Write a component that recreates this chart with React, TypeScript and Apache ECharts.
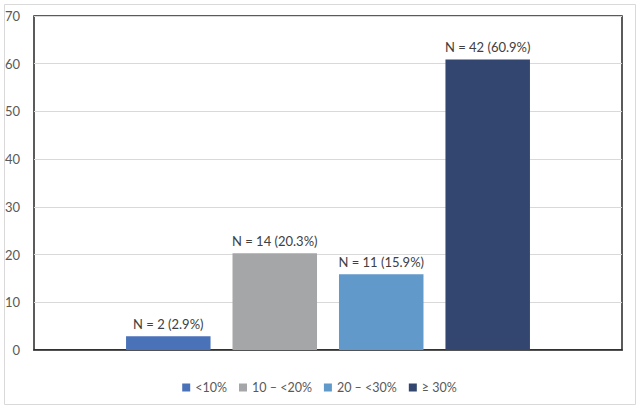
import { useEffect, useRef } from 'react';
import * as echarts from 'echarts';

// Share of cases per group
const groups = ['<10%', '10 – <20%', '20 – <30%', '≥ 30%'];
const counts = [2, 14, 11, 42];
const percents = [2.9, 20.3, 15.9, 60.9];
const colors = ['#4A72B8', '#A5A6A8', '#6199CB', '#33466F'];
const yTicks = { min: 0, max: 70, interval: 10 };

const FONT = 'Lato, "Noto Sans", sans-serif';

export default function App() {
  const chartRef = useRef<HTMLDivElement>(null);

  useEffect(() => {
    document.body.style.margin = '0';
    if (!chartRef.current) return;
    const chart = echarts.init(chartRef.current, undefined, { renderer: 'svg' });

    const series = groups.map((name, i) => ({
      name,
      type: 'bar',
      barWidth: 84.5,
      barGap: '26%',
      itemStyle: { color: colors[i] },
      label: {
        show: true,
        position: 'top',
        distance: 6,
        color: '#404040',
        fontSize: 13,
        fontFamily: FONT,
        formatter: () => `N = ${counts[i]} (${percents[i]}%)`,
      },
      data: [percents[i]],
    }));

    chart.setOption({
      animation: false,
      textStyle: { fontFamily: FONT },
      graphic: [
        {
          type: 'rect',
          shape: { x: 4.5, y: 4.5, width: 631, height: 400 },
          style: { fill: 'none', stroke: '#d9d9d9', lineWidth: 1 },
          silent: true,
        },
      ],
      grid: {
        left: 34,
        top: 16,
        right: 17,
        bottom: 60,
        show: true,
        borderColor: '#262626',
        borderWidth: 1.5,
      },
      legend: {
        data: groups,
        left: 'center',
        top: 376,
        icon: 'rect',
        itemWidth: 8,
        itemHeight: 8,
        itemGap: 12,
        textStyle: { color: '#595959', fontSize: 12.5, fontFamily: FONT },
      },
      xAxis: {
        type: 'category',
        data: [''],
        axisTick: { show: false },
        axisLabel: { show: false },
        axisLine: { show: true, lineStyle: { color: '#262626', width: 1.5 } },
      },
      yAxis: {
        type: 'value',
        min: yTicks.min,
        max: yTicks.max,
        interval: yTicks.interval,
        axisLine: { show: false },
        axisTick: { show: false },
        axisLabel: { color: '#595959', fontSize: 13, margin: 14, fontFamily: FONT },
        splitLine: { lineStyle: { color: '#d9d9d9', width: 1 } },
      },
      series,
    });

    return () => chart.dispose();
  }, []);

  return <div ref={chartRef} style={{ width: 639, height: 410 }} />;
}
